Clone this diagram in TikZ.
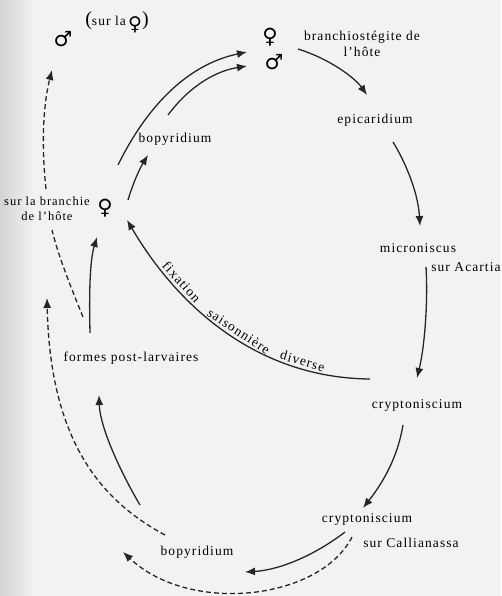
\documentclass[tikz,border=0pt]{standalone}
\usepackage{fontspec}
\setmainfont{Liberation Serif}[LetterSpace=8]
\newfontfamily\symfont{DejaVu Sans}
\usetikzlibrary{arrows.meta,calc}
\newcommand{\lblfont}{\fontsize{13.5}{16}\selectfont}
\begin{document}
\begin{tikzpicture}[x=1pt,y=-1pt,
  lbl/.style={font=\lblfont, inner sep=0pt, align=center},
  sym/.style={font=\symfont\fontsize{21}{21}\selectfont, inner sep=0pt},
  arr/.style={line width=1.3pt, draw=black!85, -{Latex[length=10pt,width=8pt]}},
  dsh/.style={arr, dash pattern=on 5pt off 3pt},
  dshplain/.style={line width=1.3pt, draw=black!85, dash pattern=on 5pt off 3pt},
  along/.style={font=\lblfont, inner sep=0pt, sloped, above=3pt}]

\useasboundingbox (0,0) rectangle (501,596);
\fill[black!5] (0,0) rectangle (501,596);
\shade[left color=black!17, right color=black!5] (0,0) rectangle (35,596);

% nodes
\node[lbl] (surla) at (117,22) {{\fontsize{20}{20}\selectfont(}sur la\,\raisebox{-5pt}{\symfont\fontsize{19}{19}\selectfont ♀}{\fontsize{20}{20}\selectfont)}};
\node[sym] (mL) at (63,39) {♂};
\node[sym] (fT) at (270,37) {♀};
\node[sym] (mT) at (274,62) {♂};
\node[lbl] (branch) at (362,44) {branchiostégite de\\l'hôte};
\node[lbl] (epi) at (375,120) {epicaridium};
\node[lbl] (micro) at (418,248) {microniscus};
\node[lbl] (acartia) at (466,267) {sur Acartia};
\node[lbl] (crypto) at (417,405) {cryptoniscium};
\node[lbl] (crypto2) at (367,519) {cryptoniscium};
\node[lbl] (calli) at (411,543) {sur Callianassa};
\node[lbl] (bopB) at (197,552) {bopyridium};
\node[lbl] (formes) at (131,358) {formes post-larvaires};
\node[lbl, font=\fontsize{12.5}{15}\selectfont] (branchie) at (47,209) {sur la branchie\\de l'hôte};
\node[sym] (fL) at (105,208) {♀};
\node[lbl] (bopT) at (175,139) {bopyridium};

% main cycle
\draw[arr] ($(fT)+(28,12)$) .. controls +(32,10) and +(-12,-17) .. ($(epi)+(-8,-25)$);
\draw[arr] ($(epi)+(18,22)$) .. controls +(10,16) and +(-2,-36) .. ($(micro)+(2,-22)$);
\draw[arr] ($(micro)+(8,19)$) .. controls +(2,33) and +(8,-33) .. ($(crypto)+(0,-27)$);
\draw[arr] ($(crypto)+(-14,20)$) .. controls +(-5,30) and +(22,-28) .. ($(crypto2)+(-4,-11)$);
\draw[arr] ($(crypto2)+(-22,13)$) .. controls +(-30,23) and +(35,-2) .. ($(bopB)+(48,20)$);
\draw[dsh] ($(crypto2)+(-15,18)$) .. controls +(-32,63) and +(67,63) .. ($(bopB)+(-74,0)$);
\draw[arr] ($(bopB)+(-57,-47)$) .. controls +(-15,-25) and +(1,35) .. ($(formes)+(-32,37)$);
\draw[dsh] ($(bopB)+(-32,-17)$) .. controls +(-65,-35) and +(3,142) .. ($(formes)+(-84,-60)$);
\draw[arr] ($(formes)+(-41,-25)$) .. controls +(-1,-43) and +(-7,23) .. ($(fL)+(-8,29)$);
\draw[dshplain] ($(formes)+(-48,-41)$) .. controls +(-13,-32) and +(6,25) .. ($(branchie)+(5,21)$);
\draw[dsh] ($(branchie)+(-1,-20)$) .. controls +(-4,-37) and +(-10,40) .. ($(mL)+(-11,31)$);
\draw[arr] ($(fL)+(23,-8)$) .. controls +(5,-17) and +(-8,13) .. ($(bopT)+(-27,16)$);
\draw[arr] ($(bopT)+(-57,26)$) .. controls +(27,-55) and +(-62,13) .. ($(fT)+(-23,15)$);
\draw[arr] ($(bopT)+(-7,-24)$) .. controls +(17,-23) and +(-37,6) .. ($(mT)+(-27,4)$);

% seasonal fixation
\draw[arr] ($(crypto)+(-47,-26)$) .. controls +(-110,-1) and +(53,90) .. ($(fL)+(22,12)$);
\path ($(fL)+(22,12)$) .. controls +(53,90) and +(-110,-1) .. ($(crypto)+(-47,-26)$)
  node[along, pos=0.27] (fix1) {fixation}
  node[along, pos=0.53] (fix2) {saisonnière}
  node[along, pos=0.775] (fix3) {diverse};
\end{tikzpicture}
\end{document}
